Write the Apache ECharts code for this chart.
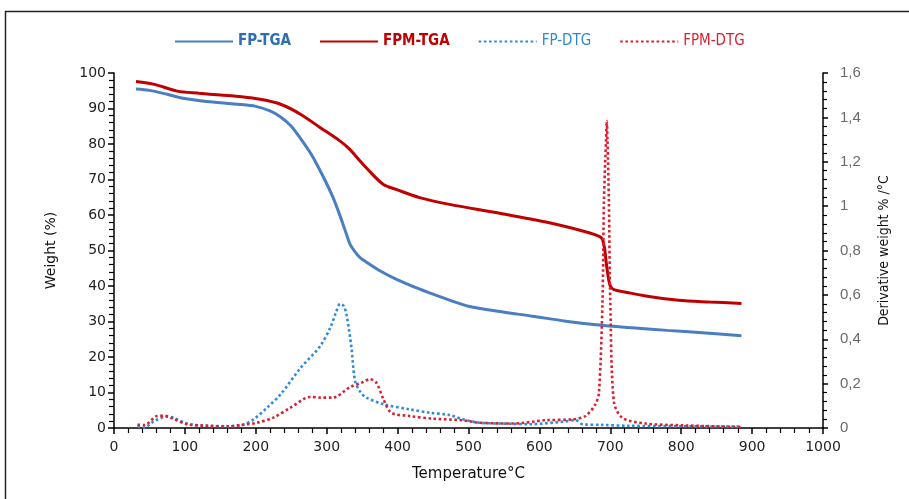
<!DOCTYPE html>
<html><head><meta charset="utf-8">
<script src="https://cdn.jsdelivr.net/npm/echarts@6/dist/echarts.min.js"></script>
<style>html,body{margin:0;padding:0;background:#fff}#c{width:909px;height:499px}</style>
</head><body><div id="c"></div>
<script>
// ---- data ----
const fpTgaT = [31, 50, 75, 100, 125, 150, 175, 200, 220, 235, 250, 265, 280, 291, 300, 309, 316, 323, 328, 333, 340, 347, 360, 375, 400, 425, 450, 475, 500, 544, 590, 637, 684, 726, 780, 830, 885];
const fpTgaW = [95.5, 95.1, 94.0, 92.8, 92.1, 91.6, 91.2, 90.6, 89.3, 87.6, 85.0, 81.0, 76.5, 72.4, 68.8, 64.9, 61.3, 57.4, 54.5, 51.7, 49.6, 48.0, 46.2, 44.3, 41.7, 39.6, 37.7, 35.9, 34.3, 32.8, 31.5, 30.1, 29.0, 28.3, 27.5, 26.8, 26.0];

const fpmTgaT = [31, 57, 89, 120, 150, 180, 206, 235, 263, 291, 319, 333, 347, 362, 380, 398, 431, 473, 544, 614, 670, 685, 689, 692, 694, 696, 698, 700, 705, 726, 750, 796, 840, 885];
const fpmTgaW = [97.6, 96.8, 94.9, 94.3, 93.8, 93.3, 92.6, 91.2, 88.4, 84.6, 80.8, 78.4, 75.2, 72.0, 68.6, 67.2, 64.9, 63.0, 60.5, 57.8, 55.0, 53.9, 53.1, 50.5, 47.0, 44.0, 41.5, 40.0, 39.0, 38.1, 37.2, 36.0, 35.5, 35.1];

const fpDtgT = [33, 42, 57, 75, 85, 103, 122, 160, 183, 197, 216, 235, 263, 291, 305, 313, 319, 324, 328, 335, 340, 348, 356, 380, 417, 445, 473, 492, 515, 562, 586, 632, 651, 661, 688, 726, 800, 885];
const fpDtgD = [0.008, 0.002, 0.032, 0.051, 0.045, 0.020, 0.012, 0.008, 0.016, 0.039, 0.092, 0.152, 0.27, 0.37, 0.452, 0.52, 0.56, 0.55, 0.51, 0.36, 0.212, 0.16, 0.137, 0.107, 0.084, 0.069, 0.059, 0.039, 0.024, 0.019, 0.017, 0.028, 0.035, 0.017, 0.014, 0.010, 0.008, 0.006];

const fpmDtgT = [33, 43, 61, 71, 82, 103, 136, 160, 178, 202, 225, 249, 277, 291, 309, 333, 350, 361, 370, 380, 391, 417, 450, 492, 515, 562, 609, 647, 665, 679, 684, 689, 691, 694, 695, 696, 698, 700, 705, 717, 750, 800, 876, 885];
const fpmDtgD = [0.015, 0.013, 0.054, 0.055, 0.044, 0.017, 0.009, 0.006, 0.013, 0.024, 0.047, 0.092, 0.14, 0.137, 0.137, 0.185, 0.205, 0.22, 0.204, 0.13, 0.069, 0.054, 0.042, 0.035, 0.024, 0.020, 0.035, 0.039, 0.054, 0.107, 0.16, 0.57, 1.02, 1.3, 1.384, 1.3, 1.02, 0.57, 0.12, 0.046, 0.020, 0.012, 0.005, 0.004];

const seriesNames = ['FP-TGA', 'FPM-TGA', 'FP-DTG', 'FPM-DTG'];
const xTitle = 'Temperature°C';
const yLeftTitle = 'Weight (%)';
const yRightTitle = 'Derivative weight % /°C';

const zip = (a, b) => a.map((v, i) => [v, b[i]]);

const chart = echarts.init(document.getElementById('c'), null, {renderer: 'canvas'});
const axisLine = {show: true, lineStyle: {color: '#000', width: 1.5}};
const sans = 'DejaVu Sans';
const narrow = "'Liberation Sans Narrow', 'DejaVu Sans Condensed', sans-serif";

chart.setOption({
  animation: false,
  backgroundColor: '#fff',
  graphic: [{type: 'rect', shape: {x: 5.5, y: 11.5, width: 1000, height: 600}, style: {fill: 'none', stroke: '#222', lineWidth: 1.5}, silent: true}],
  legend: {
    left: 169, top: 29, itemWidth: 58, itemHeight: 14, itemGap: 28,
    itemStyle: {opacity: 0},
    textStyle: {fontFamily: narrow, fontSize: 15},
    data: [
      {name: seriesNames[0], textStyle: {color: '#2F6DB5', fontWeight: 'bold'}},
      {name: seriesNames[1], textStyle: {color: '#C00000', fontWeight: 'bold'}},
      {name: seriesNames[2], textStyle: {color: '#2E86D6'}},
      {name: seriesNames[3], textStyle: {color: '#D81E2E'}}
    ]
  },
  grid: {left: 114, right: 86, top: 73, bottom: 71},
  xAxis: {
    type: 'value', min: 0, max: 1000, interval: 100,
    name: xTitle, nameLocation: 'middle', nameGap: 39,
    nameTextStyle: {fontFamily: sans, fontSize: 15, color: '#111'},
    axisLine: axisLine,
    axisTick: {show: true, length: 6, lineStyle: {color: '#000', width: 1.5}},
    minorTick: {show: true, splitNumber: 5, length: 5, lineStyle: {color: '#000', width: 1.2}},
    axisLabel: {fontFamily: sans, fontSize: 14, color: '#222', margin: 12, formatter: v => String(v)},
    splitLine: {show: false}
  },
  yAxis: [{
    type: 'value', min: 0, max: 100, interval: 10, position: 'left',
    name: yLeftTitle, nameLocation: 'middle', nameGap: 56, nameRotate: 90,
    nameTextStyle: {fontFamily: sans, fontSize: 14, color: '#111'},
    axisLine: axisLine,
    axisTick: {show: true, length: 6, lineStyle: {color: '#000', width: 1.5}},
    minorTick: {show: true, splitNumber: 5, length: 5, lineStyle: {color: '#000', width: 1.2}},
    axisLabel: {fontFamily: sans, fontSize: 14, color: '#222', margin: 8},
    splitLine: {show: false}
  }, {
    type: 'value', min: 0, max: 1.6, interval: 0.2, position: 'right',
    name: yRightTitle, nameLocation: 'middle', nameGap: 54, nameRotate: 90,
    nameTextStyle: {fontFamily: narrow, fontSize: 14, color: '#111'},
    axisLine: axisLine,
    axisTick: {show: true, length: 5, lineStyle: {color: '#000', width: 1.5}},
    minorTick: {show: true, splitNumber: 5, length: 4, lineStyle: {color: '#000', width: 1.2}},
    axisLabel: {fontFamily: "'Liberation Sans', sans-serif", fontSize: 15, color: '#6a6a6a', margin: 17,
      formatter: v => String(Math.round(v * 10) / 10).replace('.', ',')},
    splitLine: {show: false}
  }],
  series: [
    {name: seriesNames[0], type: 'line', yAxisIndex: 0, data: zip(fpTgaT, fpTgaW), smooth: 0.3, symbol: 'none',
      lineStyle: {color: '#4A7EC2', width: 3}, itemStyle: {color: '#4A7EC2'}},
    {name: seriesNames[1], type: 'line', yAxisIndex: 0, data: zip(fpmTgaT, fpmTgaW), smooth: 0.3, symbol: 'none',
      lineStyle: {color: '#C00000', width: 3}, itemStyle: {color: '#C00000'}},
    {name: seriesNames[2], type: 'line', yAxisIndex: 1, data: zip(fpDtgT, fpDtgD), smooth: 0.3, symbol: 'none',
      lineStyle: {color: '#2E8BDB', width: 2.6, type: [2.6, 2.6]}, itemStyle: {color: '#2E8BDB'}},
    {name: seriesNames[3], type: 'line', yAxisIndex: 1, data: zip(fpmDtgT, fpmDtgD), smooth: 0.3, symbol: 'none',
      lineStyle: {color: '#DA2030', width: 2.6, type: [2.6, 2.6]}, itemStyle: {color: '#DA2030'}}
  ]
});
</script>
</body></html>
